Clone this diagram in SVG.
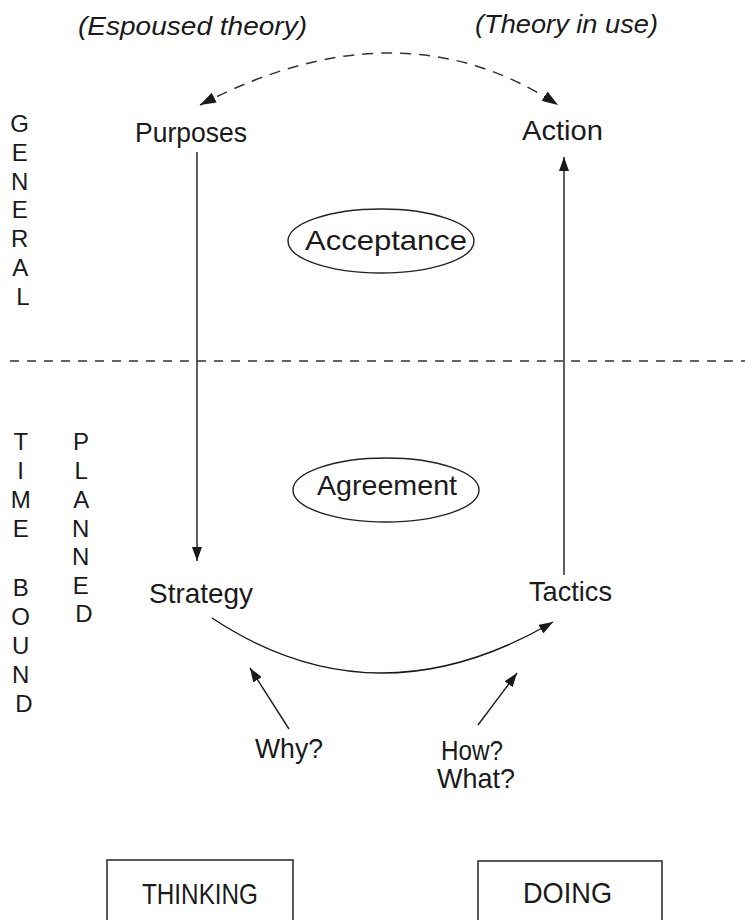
<svg xmlns="http://www.w3.org/2000/svg" width="745" height="920" viewBox="0 0 745 920">
  <defs>
    <marker id="arr" viewBox="0 0 14 10" refX="14" refY="5" markerWidth="14" markerHeight="10" markerUnits="userSpaceOnUse" orient="auto-start-reverse">
      <path d="M0,0 L14,5 L0,10 Z" fill="#1a1a1a"/>
    </marker>
    <marker id="arrBig" viewBox="0 0 16 11" refX="16" refY="5.5" markerWidth="16" markerHeight="11" markerUnits="userSpaceOnUse" orient="auto-start-reverse">
      <path d="M0,0 L16,5.5 L0,11 Z" fill="#1a1a1a"/>
    </marker>
    <style>
      text { font-family: "Liberation Sans", Arial, sans-serif; fill: #1a1a1a; }
      .lbl { font-size: 28px; }
      .cap { font-size: 29px; }
      .side { font-size: 24px; text-anchor: middle; }
      .it { font-size: 26px; font-style: italic; }
      .ln { fill: none; stroke: #1a1a1a; stroke-width: 1.4; }
      .dash { fill: none; stroke: #333; stroke-width: 1.5; stroke-dasharray: 11 8; }
      .box { fill: #fff; stroke: #333; stroke-width: 1.6; }
      .ell { fill: none; stroke: #222; stroke-width: 1.4; }
    </style>
  </defs>
  <rect width="745" height="920" fill="#fff"/>

  <!-- header labels -->
  <g id="espoused">
    <text class="it" x="78" y="35" textLength="229" lengthAdjust="spacingAndGlyphs">(Espoused theory)</text>
  </g>
  <g id="theory-in-use">
    <text class="it" x="475" y="33" textLength="183" lengthAdjust="spacingAndGlyphs">(Theory in use)</text>
  </g>

  <!-- side vertical labels -->
  <g id="general">
    <text class="side">
      <tspan x="23" y="132">G</tspan>
      <tspan x="23" y="161">E</tspan>
      <tspan x="23" y="190">N</tspan>
      <tspan x="23" y="218">E</tspan>
      <tspan x="23" y="247">R</tspan>
      <tspan x="23" y="276">A</tspan>
      <tspan x="23" y="305">L</tspan>
    </text>
  </g>
  <g id="time-bound">
    <text class="side">
      <tspan x="24" y="450">T</tspan>
      <tspan x="24" y="479">I</tspan>
      <tspan x="24" y="508">M</tspan>
      <tspan x="24" y="537">E</tspan>
      <tspan x="24" y="596">B</tspan>
      <tspan x="24" y="625">O</tspan>
      <tspan x="24" y="654">U</tspan>
      <tspan x="24" y="683">N</tspan>
      <tspan x="24" y="712">D</tspan>
    </text>
  </g>
  <g id="planned">
    <text class="side">
      <tspan x="84" y="450">P</tspan>
      <tspan x="84" y="479">L</tspan>
      <tspan x="84" y="508">A</tspan>
      <tspan x="84" y="537">N</tspan>
      <tspan x="84" y="565">N</tspan>
      <tspan x="84" y="594">E</tspan>
      <tspan x="84" y="622">D</tspan>
    </text>
  </g>

  <!-- divider -->
  <line x1="10" y1="361" x2="745" y2="361" stroke="#333" stroke-width="1.4" stroke-dasharray="9 8"/>

  <!-- connectors -->
  <g id="connectors">
    <path class="dash" d="M200,105 Q400,1 558,105" marker-start="url(#arrBig)" marker-end="url(#arrBig)"/>
    <line class="ln" x1="197" y1="152" x2="197" y2="561" marker-end="url(#arr)"/>
    <line class="ln" x1="564" y1="575" x2="564" y2="157" marker-end="url(#arr)"/>
    <path class="ln" d="M212,618 Q375,726 553,622" marker-end="url(#arr)"/>
    <line class="ln" x1="289" y1="729" x2="250" y2="668" marker-end="url(#arr)"/>
    <line class="ln" x1="478" y1="725" x2="517" y2="673" marker-end="url(#arr)"/>
  </g>

  <!-- nodes -->
  <g id="purposes">
    <text class="lbl" x="135" y="142" textLength="112" lengthAdjust="spacingAndGlyphs">Purposes</text>
  </g>
  <g id="action">
    <text class="lbl" x="522" y="140" textLength="81" lengthAdjust="spacingAndGlyphs">Action</text>
  </g>
  <g id="acceptance">
    <ellipse class="ell" cx="381" cy="241" rx="93" ry="32"/>
    <text class="lbl" x="305" y="250" textLength="162" lengthAdjust="spacingAndGlyphs">Acceptance</text>
  </g>
  <g id="agreement">
    <ellipse class="ell" cx="386" cy="490" rx="93" ry="32"/>
    <text class="lbl" x="317" y="495" textLength="140" lengthAdjust="spacingAndGlyphs">Agreement</text>
  </g>
  <g id="strategy">
    <text class="lbl" x="149" y="603" textLength="104" lengthAdjust="spacingAndGlyphs">Strategy</text>
  </g>
  <g id="tactics">
    <text class="lbl" x="529" y="601" textLength="83" lengthAdjust="spacingAndGlyphs">Tactics</text>
  </g>
  <g id="why">
    <text class="lbl" x="255" y="758" textLength="68" lengthAdjust="spacingAndGlyphs">Why?</text>
  </g>
  <g id="how-what">
    <text class="lbl" x="441" y="760" textLength="62" lengthAdjust="spacingAndGlyphs">How?</text>
    <text class="lbl" x="437" y="788" textLength="78" lengthAdjust="spacingAndGlyphs">What?</text>
  </g>
  <g id="thinking">
    <rect class="box" x="107" y="860" width="186" height="75"/>
    <text class="cap" x="142" y="904" textLength="116" lengthAdjust="spacingAndGlyphs">THINKING</text>
  </g>
  <g id="doing">
    <rect class="box" x="478" y="861" width="184" height="75"/>
    <text class="cap" x="523" y="903" textLength="89" lengthAdjust="spacingAndGlyphs">DOING</text>
  </g>
</svg>
